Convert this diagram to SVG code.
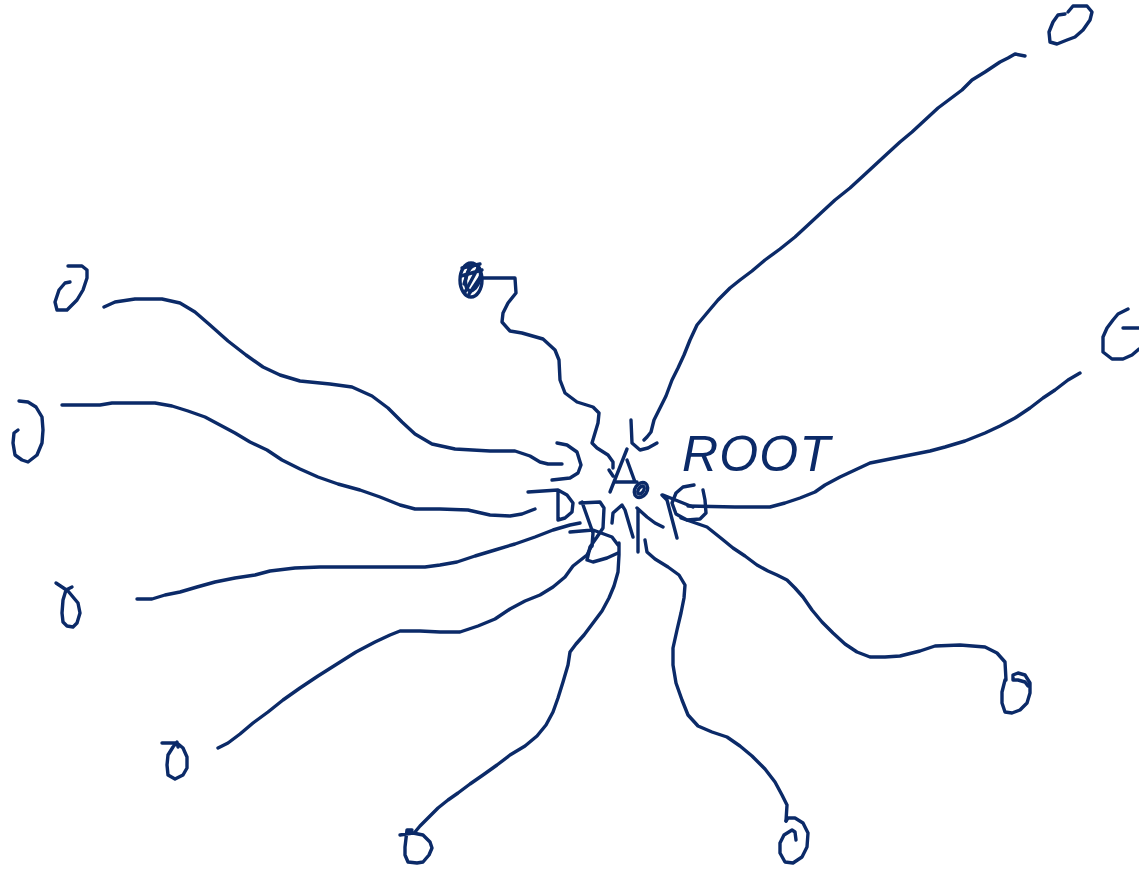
<svg xmlns="http://www.w3.org/2000/svg" width="1139" height="869" viewBox="0 0 1139 869">
<style>
  .s{fill:none;stroke:#0b2a68;stroke-width:3.4;stroke-linecap:round;stroke-linejoin:round}
  .t{fill:#0b2a68;font-family:"Liberation Sans",Arial,sans-serif;font-style:italic;font-size:50px}
</style>
<rect width="1139" height="869" fill="#ffffff"/>
<g id="connectors">
  <path class="s" d="M1025,56 L1015,54 L1008,58 L1000,62 L985,72 L972,80 L962,90 L950,99 L938,108 L925,120 L912,132 L900,142 L888,153 L875,165 L862,177 L850,188 L835,200 L822,212 L808,225 L795,237 L780,249 L765,260 L752,271 L740,280 L730,288 L718,300 L707,313 L697,325 L690,340 L684,355 L678,368 L672,380 L666,396 L660,408 L654,420 L651,432 L647,437 L644,440"/>
  <path class="s" d="M1080,373 L1068,380 L1055,390 L1043,398 L1030,408 L1015,418 L1000,426 L985,433 L965,441 L945,447 L930,451 L910,455 L890,459 L870,463 L855,470 L840,477 L825,485 L815,492 L800,498 L785,503 L770,507 L735,507 L688,506"/>
  <path class="s" d="M1006,680 L1005,662 L997,653 L985,647 L960,645 L935,646 L920,651 L900,656 L885,657 L870,657 L857,652 L845,644 L833,633 L822,622 L812,610 L803,597 L795,588 L787,580 L777,575 L768,571 L757,565 L745,556 L733,548 L722,539 L707,527 L681,518"/>
  <path class="s" d="M786,821 L787,805 L782,795 L775,782 L765,769 L752,756 L740,746 L727,737 L712,732 L698,726 L688,715 L682,700 L676,683 L673,665 L673,648 L677,630 L681,613 L684,598 L685,585 L679,575 L668,567 L655,559 L647,552 L645,540"/>
  <path class="s" d="M415,832 L420,826 L428,818 L438,808 L448,800 L458,793 L470,784 L483,775 L497,765 L510,755 L525,746 L537,736 L546,725 L553,712 L558,698 L563,682 L568,665 L570,652 L576,644 L584,635 L593,623 L602,611 L609,598 L614,586 L618,572 L619,555 L619,543"/>
  <path class="s" d="M218,748 L228,743 L240,734 L253,723 L268,712 L283,700 L300,688 L318,676 L337,664 L356,652 L375,642 L390,635 L400,631 L420,631 L440,632 L460,632 L478,626 L495,619 L510,609 L525,601 L540,595 L553,587 L565,577 L573,566 L587,555 L592,545"/>
  <path class="s" d="M137,599 L152,599 L165,595 L180,592 L197,587 L215,582 L235,578 L255,575 L270,571 L295,568 L320,567 L360,567 L400,567 L425,567 L440,565 L457,562 L475,556 L495,550 L515,544 L535,537 L553,530 L570,525 L580,523"/>
  <path class="s" d="M62,405 L100,405 L112,403 L155,403 L172,406 L188,411 L205,417 L220,425 L235,433 L250,442 L267,450 L282,460 L300,469 L318,477 L338,484 L360,490 L380,497 L400,505 L415,509 L440,509 L468,510 L490,515 L510,516 L522,514 L535,509"/>
  <path class="s" d="M104,307 L115,302 L135,299 L162,299 L180,303 L195,312 L210,325 L228,341 L246,355 L263,367 L280,375 L300,381 L330,384 L352,387 L372,396 L388,408 L402,422 L415,434 L432,444 L455,449 L490,451 L515,451 L530,456 L540,462 L548,464 L562,464"/>
  <path class="s" d="M483,278 L515,278 L516,293 L508,303 L503,313 L502,322 L510,331 L522,333 L543,339 L555,350 L559,360 L560,380 L565,393 L577,402 L593,407 L599,413 L598,423 L592,443 L597,448 L608,455 L613,462 L613,468"/>
</g>
<g id="root">
  <text class="t" x="682" y="471" textLength="148" lengthAdjust="spacing">ROOT</text>
  <path class="s" d="M631,420 L632,443 L640,450 L648,448 L657,443"/>
  <path class="s" d="M627,449 L610,492 M627,460 L635,482 M615,482 L637,482 M609,470 L613,476"/>
  <path class="s" d="M557,443 L567,445 L577,452 L581,465 L578,473 L570,478 L552,480"/>
  <path class="s" d="M528,492 L558,490 L567,495 L573,503 L572,512 L565,518 L558,520 M558,491 L558,520"/>
  <path class="s" d="M580,503 L600,502 L604,508 L603,528 L597,537 L590,547 L587,560 L593,562 L607,558 L618,553 M582,502 L593,533 L592,546 M570,532 L593,530 L612,537 L618,545"/>
  <path class="s" d="M612,523 L613,513 L622,505 L625,510 L630,527 L633,537"/>
  <path class="s" d="M638,510 L638,552 M637,508 L647,517 L655,523 L663,527"/>
  <ellipse class="s" cx="641" cy="490" rx="6" ry="8" transform="rotate(35 641 490)"/>
  <ellipse class="s" cx="641" cy="490" rx="2.5" ry="4.5" transform="rotate(35 641 490)"/>
  <path class="s" d="M662,495 L667,500 L677,538 M663,495 L693,507"/>
  <path class="s" d="M694,485 L683,487 L676,493 L672,503 L676,514 L687,520 L700,519 L706,513 L705,500 L703,490"/>
</g>
<g id="n1"><path class="s" d="M1068,12 L1073,6 L1087,6 L1092,12 L1090,20 L1083,30 L1075,37 L1067,40 L1057,44 L1050,42 L1049,32 L1053,22 L1058,15 L1065,14"/></g>
<g id="n2"><path class="s" d="M1128,309 L1118,314 L1113,320 L1107,328 L1103,337 L1103,352 L1112,359 L1123,359 L1132,355 L1139,349 M1123,328 L1139,328"/></g>
<g id="n3"><path class="s" d="M1005,680 L1002,692 L1002,703 L1005,712 L1012,713 L1020,710 L1027,703 L1030,693 L1030,683 L1025,675 L1018,673 L1013,675 L1013,680 L1018,680 L1025,682 L1028,686"/></g>
<g id="n4"><path class="s" d="M786,821 L788,818 L795,818 L803,823 L808,833 L807,847 L802,857 L793,863 L785,862 L780,853 L780,843 L784,835 L792,830 L795,832 L796,840"/></g>
<g id="n5"><path class="s" d="M400,835 L413,833 L423,835 L430,842 L432,848 L429,855 L423,862 L417,863 L408,862 L405,855 L405,847 L407,830 L412,830"/></g>
<g id="n6"><path class="s" d="M162,743 L177,743 L183,748 L187,757 L187,768 L183,775 L175,779 L168,775 L167,765 L168,755 L173,747 L177,742 L178,747"/></g>
<g id="n7"><path class="s" d="M56,583 L68,591 L78,603 L80,613 L77,623 L73,627 L67,626 L63,622 L62,613 L63,600 L66,590 L72,587"/></g>
<g id="n8"><path class="s" d="M19,401 L28,402 L36,407 L42,417 L43,430 L42,443 L37,455 L28,462 L22,460 L15,455 L13,443 L14,433 L18,430"/></g>
<g id="n9"><path class="s" d="M68,266 L82,266 L87,270 L87,278 L83,290 L77,300 L67,310 L57,310 L55,302 L59,290 L65,283 L70,282"/></g>
<g id="n10">
  <ellipse class="s" cx="471" cy="280" rx="11" ry="17"/>
  <ellipse class="s" cx="473" cy="278" rx="7" ry="13" transform="rotate(15 473 278)"/>
  <path class="s" d="M462,268 L480,264 M461,276 L482,270 M465,292 L478,268 M469,294 L481,276 M464,284 L470,266"/>
</g>
</svg>
